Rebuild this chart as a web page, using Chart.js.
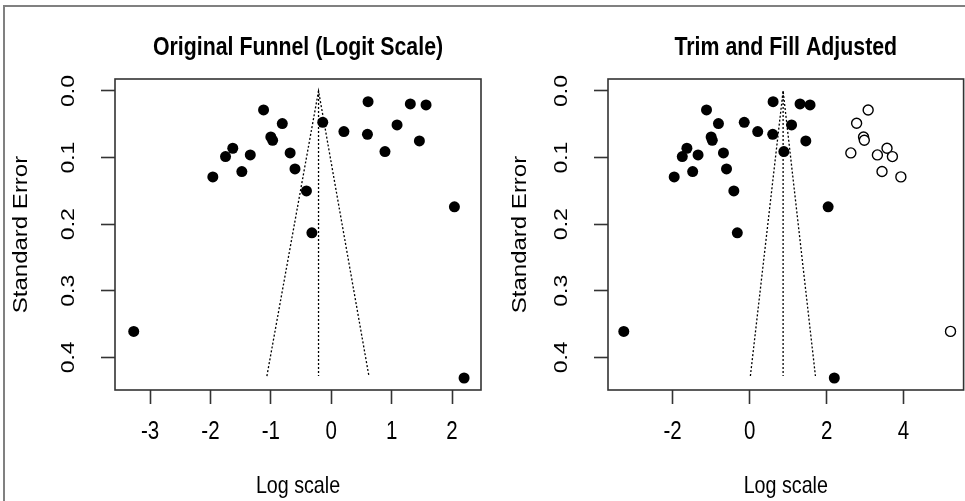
<!DOCTYPE html>
<html>
<head>
<meta charset="utf-8">
<script src="https://cdn.jsdelivr.net/npm/chart.js@4.4.1/dist/chart.umd.min.js"></script>
<style>
  html, body { margin: 0; padding: 0; background: #fff; overflow: hidden; width: 965px; height: 501px; }
  #frame { position: absolute; left: 3px; top: 5px; width: 1000px; height: 600px; border-top: 2px solid #808080; border-left: 2px solid #808080; }
  .wrap { position: absolute; top: 0; height: 501px; }
  #leftWrap { left: 0; width: 490px; }
  #rightWrap { left: 490px; width: 480px; }
</style>
</head>
<body>
<div id="frame"></div>
<div class="wrap" id="leftWrap"><canvas id="origChart"></canvas></div>
<div class="wrap" id="rightWrap"><canvas id="trimChart"></canvas></div>
<script>
// observed studies (logit effect, standard error)
const studyLogit = [-1.12, -0.81, -1.00, -0.97, -1.63, -1.75, -1.34, -1.96, -1.48, -0.68, -0.60, -0.41, -0.14,
  0.21, 0.61, 0.60, 0.89, 1.09, 1.31, 1.57, 1.46, 2.04, -0.32, -3.27, 2.20];
const studySE = [0.0285, 0.049, 0.069, 0.074, 0.086, 0.0985, 0.096, 0.129, 0.121, 0.093, 0.117, 0.150, 0.047,
  0.061, 0.016, 0.065, 0.091, 0.051, 0.0195, 0.021, 0.075, 0.174, 0.213, 0.361, 0.431];

// imputed studies from trim and fill
const filledLogit = [3.08, 2.78, 2.96, 2.98, 2.63, 3.32, 3.57, 3.71, 3.44, 3.93, 5.22];
const filledSE = [0.0285, 0.0485, 0.069, 0.074, 0.093, 0.096, 0.086, 0.0985, 0.121, 0.129, 0.361];

// pseudo confidence funnels
const origFunnelX = [-1.065, -0.21, 0.624];
const trimFunnelX = [0.02, 0.87, 1.71];
const funnelSE = [0.428, 0, 0.428];
const origCenterX = [-0.21, -0.21];
const trimCenterX = [0.87, 0.87];
const centerSE = [0, 0.428];

const origXTicks = [-3, -2, -1, 0, 1, 2];
const trimXTicks = [-2, 0, 2, 4];
const seTicks = [0, 0.1, 0.2, 0.3, 0.4];

const FONT = "'Liberation Sans', Arial, sans-serif";
const INK = '#333';
// the source figure's lettering is squeezed sideways
const TEXT_SQUEEZE = 0.82;

function pts(xs, ys) {
  return xs.map((x, i) => ({ x, y: ys[i] }));
}

const squeezePlugin = {
  id: 'squeezeText',
  beforeDraw(chart) {
    const ctx = chart.ctx;
    if (ctx._squeezed) return;
    ctx._squeezed = true;
    const fill = ctx.fillText.bind(ctx);
    ctx.fillText = (text, x, y, maxWidth) => {
      const m = ctx.getTransform();
      const p = m.transformPoint(new DOMPoint(x, y));
      ctx.setTransform(new DOMMatrix().translate(p.x, p.y).scale(TEXT_SQUEEZE, 1).translate(-p.x, -p.y).multiply(m));
      if (maxWidth === undefined) fill(text, x, y); else fill(text, x, y, maxWidth);
      ctx.setTransform(m);
    };
  }
};

const framePlugin = {
  id: 'panelFrame',
  afterDraw(chart, args, opts) {
    const { ctx, chartArea: a } = chart;
    ctx.save();
    ctx.strokeStyle = INK;
    ctx.lineWidth = 1.6;
    ctx.strokeRect(a.left, a.top, a.right - a.left, a.bottom - a.top);
    ctx.fillStyle = '#000';
    ctx.font = 'bold 26px ' + FONT;
    ctx.textAlign = 'center';
    ctx.textBaseline = 'middle';
    ctx.fillText(opts.text, (a.left + a.right) / 2, opts.y);
    ctx.restore();
  }
};

function makeOptions(cfg) {
  return {
    responsive: true,
    maintainAspectRatio: false,
    animation: false,
    layout: { padding: { left: 0, right: cfg.padRight, top: 79, bottom: 0 } },
    plugins: {
      legend: { display: false },
      tooltip: { enabled: false },
      panelFrame: { text: cfg.title, y: 48 }
    },
    scales: {
      x: {
        type: 'linear',
        min: cfg.xMin,
        max: cfg.xMax,
        afterBuildTicks: s => { s.ticks = cfg.xTicks.map(v => ({ value: v })); },
        afterFit: s => { s.height = 111; },
        border: { display: false },
        grid: { drawOnChartArea: false, drawTicks: true, tickLength: 14, tickWidth: 1.6, tickColor: INK },
        ticks: { color: '#000', padding: 13, font: { family: FONT, size: 25, lineHeight: 1.2 }, callback: v => String(v) },
        title: { display: true, text: 'Log scale', color: '#000', padding: { top: 0, bottom: 0 }, font: { family: FONT, size: 24, lineHeight: 1.2 } }
      },
      y: {
        type: 'linear',
        reverse: true,
        min: -0.018,
        max: 0.449,
        afterBuildTicks: s => { s.ticks = seTicks.map(v => ({ value: v })); },
        afterFit: s => { s.width = cfg.yWidth; },
        border: { display: false },
        grid: { drawOnChartArea: false, drawTicks: true, tickLength: 14, tickWidth: 1.6, tickColor: INK },
        ticks: { color: '#000', padding: 16, crossAlign: 'center', minRotation: 90, maxRotation: 90, font: { family: FONT, size: 23 }, callback: v => v.toFixed(1) },
        title: { display: true, text: 'Standard Error', color: '#000', padding: { top: cfg.yTitlePad, bottom: 0 }, font: { family: FONT, size: 24, lineHeight: 1.2 } }
      }
    }
  };
}

new Chart(document.getElementById('origChart'), {
  type: 'scatter',
  data: {
    datasets: [
      { label: 'Studies', data: pts(studyLogit, studySE), pointRadius: 5.5, backgroundColor: '#000', borderWidth: 0 },
      { label: 'Funnel', data: pts(origFunnelX, funnelSE), showLine: true, pointRadius: 0, borderColor: '#000', borderWidth: 1.3, borderDash: [2, 2] },
      { label: 'Estimate', data: pts(origCenterX, centerSE), showLine: true, pointRadius: 0, borderColor: '#000', borderWidth: 1.3, borderDash: [2, 2] }
    ]
  },
  options: makeOptions({ title: 'Original Funnel (Logit Scale)', xMin: -3.58, xMax: 2.48, xTicks: origXTicks, padRight: 9, yWidth: 115, yTitlePad: 7 }),
  plugins: [squeezePlugin, framePlugin]
});

new Chart(document.getElementById('trimChart'), {
  type: 'scatter',
  data: {
    datasets: [
      { label: 'Studies', data: pts(studyLogit, studySE), pointRadius: 5.5, backgroundColor: '#000', borderWidth: 0 },
      { label: 'Filled', data: pts(filledLogit, filledSE), pointRadius: 5, backgroundColor: '#fff', borderColor: '#000', borderWidth: 1.4 },
      { label: 'Funnel', data: pts(trimFunnelX, funnelSE), showLine: true, pointRadius: 0, borderColor: '#000', borderWidth: 1.3, borderDash: [2, 2] },
      { label: 'Estimate', data: pts(trimCenterX, centerSE), showLine: true, pointRadius: 0, borderColor: '#000', borderWidth: 1.3, borderDash: [2, 2] }
    ]
  },
  options: makeOptions({ title: 'Trim and Fill Adjusted', xMin: -3.68, xMax: 5.56, xTicks: trimXTicks, padRight: 3, yWidth: 118, yTitlePad: 16 }),
  plugins: [squeezePlugin, framePlugin]
});
</script>
</body>
</html>
